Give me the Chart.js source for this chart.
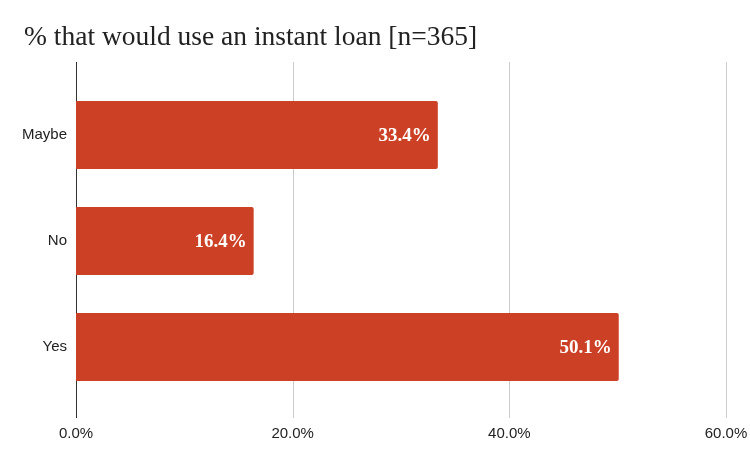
<!DOCTYPE html>
<html>
<head>
<meta charset="utf-8">
<script src="https://cdn.jsdelivr.net/npm/chart.js@4"></script>
<style>
  html, body { margin: 0; padding: 0; background: #fff; }
  #wrap { width: 750px; height: 463px; }
</style>
</head>
<body>
<div id="wrap"><canvas id="myChart"></canvas></div>
<script>
// タイトル
const titleText = '% that would use an instant loan [n=365]';
// カテゴリ
const categories = ['Maybe', 'No', 'Yes'];
// 値（%）
const values = [33.4, 16.4, 50.1];
// x軸の目盛り
const xTicks = [0, 20, 40, 60];

const barColor = '#cc4125';

// タイトルを左上に描く
const titlePlugin = {
    id: 'leftTitle',
    afterDraw(chart) {
        const ctx = chart.ctx;
        ctx.save();
        ctx.fillStyle = '#222222';
        ctx.font = '27.5px "Liberation Serif", serif';
        ctx.textAlign = 'left';
        ctx.textBaseline = 'middle';
        ctx.fillText(titleText, 24, 38);
        ctx.restore();
    }
};

// 縦のグリッド線を上下に少しはみ出して描く
const gridPlugin = {
    id: 'extGrid',
    beforeDatasetsDraw(chart) {
        const ctx = chart.ctx;
        const x = chart.scales.x;
        const area = chart.chartArea;
        ctx.save();
        xTicks.forEach(function (v) {
            const px = Math.round(x.getPixelForValue(v)) + 0.5;
            ctx.beginPath();
            ctx.strokeStyle = v === 0 ? '#333333' : '#cccccc';
            ctx.lineWidth = 1;
            ctx.moveTo(px, area.top - 20);
            ctx.lineTo(px, area.bottom + 18);
            ctx.stroke();
        });
        ctx.restore();
    }
};

// バーの中に値を書く
const labelPlugin = {
    id: 'barLabels',
    afterDatasetsDraw(chart) {
        const ctx = chart.ctx;
        const meta = chart.getDatasetMeta(0);
        ctx.save();
        ctx.fillStyle = '#ffffff';
        ctx.font = 'bold 19px "Liberation Serif", serif';
        ctx.textAlign = 'right';
        ctx.textBaseline = 'middle';
        meta.data.forEach(function (bar, i) {
            ctx.fillText(values[i].toFixed(1) + '%', bar.x - 7, bar.y + 1);
        });
        ctx.restore();
    }
};

const data = {
    labels: categories,
    datasets: [{
        data: values,
        backgroundColor: barColor,
        borderRadius: { topRight: 2, bottomRight: 2 },
        borderSkipped: 'left',
        categoryPercentage: 1,
        barPercentage: 0.64
    }]
};

const config = {
    type: 'bar',
    data: data,
    options: {
        indexAxis: 'y',
        responsive: true,
        maintainAspectRatio: false,
        animation: false,
        layout: { padding: { left: 16, right: 24, top: 82, bottom: 20 } },
        plugins: {
            legend: { display: false },
            tooltip: { enabled: false },
            title: { display: false }
        },
        scales: {
            x: {
                min: 0,
                max: 60,
                afterBuildTicks: function (scale) {
                    scale.ticks = xTicks.map(function (v) { return { value: v }; });
                },
                afterFit: function (scale) {
                    scale.paddingLeft = 0;
                    scale.paddingRight = 0;
                    scale.height = 43;
                },
                ticks: {
                    color: '#222222',
                    font: { family: '"Liberation Sans", Arial, sans-serif', size: 15 },
                    padding: 25,
                    callback: function (v) { return Number(v).toFixed(1) + '%'; }
                },
                grid: { display: false, drawTicks: false },
                border: { display: false }
            },
            y: {
                afterFit: function (scale) { scale.width = 60; },
                ticks: {
                    color: '#222222',
                    font: { family: '"Liberation Sans", Arial, sans-serif', size: 15 },
                    padding: 9
                },
                grid: { display: false, drawTicks: false },
                border: { display: false }
            }
        }
    },
    plugins: [gridPlugin, labelPlugin, titlePlugin]
};

const myChart = new Chart(document.getElementById('myChart'), config);
</script>
</body>
</html>
